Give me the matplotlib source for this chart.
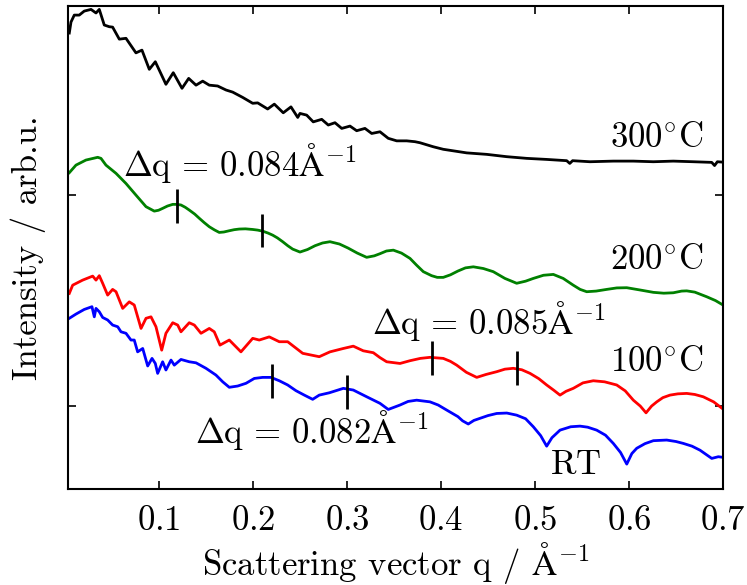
"""
X-ray reflectivity-type scans at four temperatures, stacked with offsets.
Values read off a published figure (log-intensity in decades, offset per curve).
"""

import matplotlib
matplotlib.use("Agg")
import matplotlib.pyplot as plt

plt.rcParams["font.family"] = ["cmr10", "DejaVu Serif"]
plt.rcParams["mathtext.fontset"] = "cm"
plt.rcParams["axes.unicode_minus"] = False
plt.rcParams["axes.formatter.use_mathtext"] = True

# --- data -----------------------------------------------------------------
q_300 = [0.0046, 0.0064, 0.0099, 0.0152, 0.0205, 0.0277, 0.0330, 0.0365, 0.0418, 0.0471,
         0.0507, 0.0578, 0.0649, 0.0755, 0.0819, 0.0897, 0.0961, 0.1074, 0.1152, 0.1245,
         0.1316, 0.1394, 0.1465, 0.1535, 0.1624, 0.1713, 0.1784, 0.1890, 0.1997, 0.2050,
         0.2156, 0.2227, 0.2322, 0.2404, 0.2476, 0.2500, 0.2571, 0.2641, 0.2731, 0.2801,
         0.2872, 0.2944, 0.3032, 0.3103, 0.3191, 0.3263, 0.3351, 0.3439, 0.3529, 0.3635,
         0.3723, 0.3777, 0.3918, 0.4024, 0.4273, 0.4486, 0.4699, 0.4912, 0.5124, 0.5337,
         0.5370, 0.5400, 0.5585, 0.5833, 0.6046, 0.6259, 0.6471, 0.6684, 0.6880, 0.6910,
         0.6940, 0.7000]
I_300 = [1.768, 1.820, 1.853, 1.853, 1.872, 1.880, 1.863, 1.880, 1.806, 1.798,
         1.796, 1.739, 1.743, 1.674, 1.687, 1.596, 1.632, 1.525, 1.580, 1.506,
         1.553, 1.521, 1.540, 1.521, 1.517, 1.498, 1.488, 1.463, 1.435, 1.437,
         1.408, 1.431, 1.390, 1.418, 1.368, 1.387, 1.379, 1.347, 1.359, 1.332,
         1.343, 1.316, 1.327, 1.305, 1.316, 1.292, 1.300, 1.269, 1.257, 1.257,
         1.253, 1.248, 1.229, 1.217, 1.200, 1.193, 1.182, 1.174, 1.169, 1.163,
         1.150, 1.163, 1.158, 1.161, 1.161, 1.158, 1.161, 1.158, 1.155, 1.140,
         1.158, 1.156]

q_200 = [0.0046, 0.0117, 0.0223, 0.0348, 0.0383, 0.0436, 0.0543, 0.0649, 0.0755, 0.0862,
         0.0950, 0.0995, 0.1039, 0.1090, 0.1146, 0.1190, 0.1234, 0.1280, 0.1322, 0.1380,
         0.1429, 0.1480, 0.1535, 0.1590, 0.1641, 0.1690, 0.1748, 0.1800, 0.1854, 0.1920,
         0.1997, 0.2050, 0.2103, 0.2160, 0.2210, 0.2260, 0.2316, 0.2370, 0.2422, 0.2500,
         0.2580, 0.2660, 0.2740, 0.2819, 0.2920, 0.3011, 0.3110, 0.3209, 0.3290, 0.3350,
         0.3420, 0.3493, 0.3580, 0.3670, 0.3740, 0.3812, 0.3900, 0.3960, 0.4024, 0.4100,
         0.4180, 0.4260, 0.4344, 0.4450, 0.4556, 0.4680, 0.4805, 0.4900, 0.4982, 0.5090,
         0.5195, 0.5300, 0.5407, 0.5480, 0.5550, 0.5650, 0.5763, 0.5870, 0.5976, 0.6120,
         0.6259, 0.6370, 0.6471, 0.6560, 0.6614, 0.6700, 0.6827, 0.6920, 0.7000]
I_200 = [1.106, 1.142, 1.166, 1.179, 1.174, 1.142, 1.103, 1.055, 1.000, 0.945,
         0.924, 0.928, 0.937, 0.948, 0.956, 0.956, 0.953, 0.942, 0.929, 0.910,
         0.890, 0.870, 0.850, 0.835, 0.823, 0.825, 0.831, 0.836, 0.839, 0.840,
         0.837, 0.834, 0.829, 0.820, 0.810, 0.797, 0.779, 0.760, 0.744, 0.730,
         0.742, 0.760, 0.773, 0.779, 0.768, 0.749, 0.725, 0.705, 0.712, 0.722,
         0.735, 0.739, 0.725, 0.700, 0.668, 0.637, 0.618, 0.610, 0.610, 0.622,
         0.640, 0.655, 0.660, 0.652, 0.637, 0.605, 0.582, 0.592, 0.605, 0.620,
         0.624, 0.605, 0.573, 0.553, 0.542, 0.545, 0.553, 0.560, 0.561, 0.550,
         0.539, 0.535, 0.537, 0.545, 0.546, 0.540, 0.518, 0.500, 0.479]

q_100 = [0.0046, 0.0082, 0.0188, 0.0295, 0.0330, 0.0365, 0.0401, 0.0454, 0.0507, 0.0543,
         0.0614, 0.0684, 0.0737, 0.0809, 0.0862, 0.0915, 0.0968, 0.1029, 0.1074, 0.1146,
         0.1199, 0.1234, 0.1322, 0.1376, 0.1447, 0.1535, 0.1588, 0.1649, 0.1748, 0.1872,
         0.1997, 0.2067, 0.2173, 0.2280, 0.2369, 0.2529, 0.2705, 0.2819, 0.2961, 0.3067,
         0.3173, 0.3280, 0.3350, 0.3422, 0.3564, 0.3670, 0.3780, 0.3883, 0.4024, 0.4100,
         0.4167, 0.4270, 0.4380, 0.4480, 0.4593, 0.4680, 0.4769, 0.4860, 0.4947, 0.5040,
         0.5124, 0.5200, 0.5266, 0.5330, 0.5407, 0.5510, 0.5620, 0.5740, 0.5869, 0.5960,
         0.6046, 0.6120, 0.6181, 0.6240, 0.6295, 0.6360, 0.6436, 0.6520, 0.6614, 0.6700,
         0.6790, 0.6900, 0.7000]
I_100 = [0.534, 0.573, 0.597, 0.616, 0.597, 0.618, 0.582, 0.526, 0.553, 0.542,
         0.463, 0.494, 0.479, 0.368, 0.416, 0.423, 0.376, 0.265, 0.345, 0.395,
         0.384, 0.352, 0.395, 0.384, 0.345, 0.368, 0.352, 0.289, 0.313, 0.257,
         0.321, 0.313, 0.328, 0.305, 0.305, 0.250, 0.234, 0.257, 0.273, 0.284,
         0.262, 0.253, 0.230, 0.210, 0.202, 0.215, 0.226, 0.231, 0.226, 0.212,
         0.194, 0.160, 0.136, 0.150, 0.163, 0.175, 0.179, 0.172, 0.155, 0.130,
         0.100, 0.075, 0.052, 0.070, 0.084, 0.110, 0.120, 0.115, 0.100, 0.072,
         0.028, 0.000, -0.032, 0.000, 0.020, 0.040, 0.052, 0.058, 0.060, 0.055,
         0.044, 0.020, -0.014]

q_rt = [0.0046, 0.0117, 0.0205, 0.0287, 0.0312, 0.0330, 0.0365, 0.0401, 0.0454, 0.0507,
        0.0561, 0.0596, 0.0649, 0.0702, 0.0737, 0.0773, 0.0827, 0.0880, 0.0926, 0.0961,
        0.0986, 0.1039, 0.1074, 0.1128, 0.1163, 0.1234, 0.1322, 0.1394, 0.1500, 0.1606,
        0.1678, 0.1748, 0.1837, 0.1926, 0.2014, 0.2103, 0.2191, 0.2280, 0.2369, 0.2457,
        0.2546, 0.2635, 0.2705, 0.2812, 0.2961, 0.3067, 0.3210, 0.3351, 0.3439, 0.3564,
        0.3650, 0.3741, 0.3883, 0.3970, 0.4061, 0.4180, 0.4230, 0.4290, 0.4350, 0.4415,
        0.4500, 0.4593, 0.4700, 0.4805, 0.4900, 0.4982, 0.5060, 0.5124, 0.5180, 0.5266,
        0.5380, 0.5479, 0.5560, 0.5656, 0.5750, 0.5833, 0.5910, 0.5976, 0.6030, 0.6082,
        0.6170, 0.6259, 0.6401, 0.6500, 0.6578, 0.6670, 0.6755, 0.6880, 0.6950, 0.7000]
I_rt = [0.416, 0.436, 0.458, 0.471, 0.423, 0.463, 0.447, 0.420, 0.408, 0.384,
        0.376, 0.352, 0.345, 0.313, 0.313, 0.257, 0.273, 0.190, 0.226, 0.202,
        0.155, 0.210, 0.171, 0.218, 0.194, 0.221, 0.210, 0.205, 0.179, 0.147,
        0.115, 0.089, 0.095, 0.108, 0.131, 0.136, 0.136, 0.120, 0.100, 0.073,
        0.052, 0.032, 0.052, 0.063, 0.084, 0.076, 0.044, 0.013, -0.016, 0.005,
        0.022, 0.028, 0.020, 0.005, -0.019, -0.050, -0.070, -0.085, -0.068, -0.058,
        -0.045, -0.035, -0.033, -0.043, -0.060, -0.098, -0.140, -0.190, -0.150, -0.114,
        -0.098, -0.095, -0.100, -0.114, -0.138, -0.177, -0.220, -0.275, -0.225, -0.200,
        -0.178, -0.164, -0.161, -0.168, -0.177, -0.190, -0.209, -0.248, -0.240, -0.243]

# fringe markers (q position, curve level at marker)
mark_q_200 = [0.119, 0.210]
mark_I_200 = [0.950, 0.832]
mark_q_100 = [0.390, 0.4805]
mark_I_100 = [0.227, 0.180]
mark_q_rt = [0.220, 0.300]
mark_I_rt = [0.119, 0.068]

xticks = [0.1, 0.2, 0.3, 0.4, 0.5, 0.6, 0.7]
xtick_labels = ["$0.1$", "$0.2$", "$0.3$", "$0.4$", "$0.5$", "$0.6$", "$0.7$"]

# --- plot -----------------------------------------------------------------
fig = plt.figure(figsize=(7.47, 5.85), dpi=100)
ax = fig.add_axes([0.0910, 0.1641, 0.8769, 0.8256])

lw = 2.0
ax.plot(q_300, I_300, color="black", lw=lw)
ax.plot(q_200, I_200, color=(0, 0.5, 0), lw=lw)
ax.plot(q_100, I_100, color="red", lw=lw)
ax.plot(q_rt, I_rt, color="blue", lw=lw)

half = 0.08
for qs, Is in [(mark_q_200, mark_I_200), (mark_q_100, mark_I_100), (mark_q_rt, mark_I_rt)]:
    ax.vlines(qs, [v - half for v in Is], [v + half for v in Is], color="black", lw=2.0)

fs = 25
ax.text(0.679, 1.270, r"$300^{\circ}\mathrm{C}$", fontsize=fs, ha="right", va="center")
ax.text(0.679, 0.692, r"$200^{\circ}\mathrm{C}$", fontsize=fs, ha="right", va="center")
ax.text(0.679, 0.210, r"$100^{\circ}\mathrm{C}$", fontsize=fs, ha="right", va="center")
ax.text(0.571, -0.280, r"$\mathrm{RT}$", fontsize=fs, ha="right", va="center")
ax.text(0.0617, 1.152, r"$\Delta\mathrm{q}\,=\,0.084\mathrm{\AA}^{-1}$", fontsize=fs, ha="left", va="center")
ax.text(0.3266, 0.403, r"$\Delta\mathrm{q}\,=\,0.085\mathrm{\AA}^{-1}$", fontsize=fs, ha="left", va="center")
ax.text(0.1383, -0.114, r"$\Delta\mathrm{q}\,=\,0.082\mathrm{\AA}^{-1}$", fontsize=fs, ha="left", va="center")

ax.set_xlim(0.0032, 0.7)
ax.set_ylim(-0.393, 1.896)
ax.set_xticks(xticks, labels=xtick_labels, fontsize=fs)
ax.set_yticks([0, 1], labels=["", ""])
ax.tick_params(direction="in", top=True, right=True, length=6, width=1.2, pad=12)
for s in ax.spines.values():
    s.set_linewidth(1.5)

ax.set_xlabel(r"Scattering vector q / $\mathrm{\AA}^{-1}$", fontsize=fs, labelpad=2)
ax.set_ylabel("Intensity / arb.u.", fontsize=fs, labelpad=4)

fig.savefig("out.png", dpi=100)
